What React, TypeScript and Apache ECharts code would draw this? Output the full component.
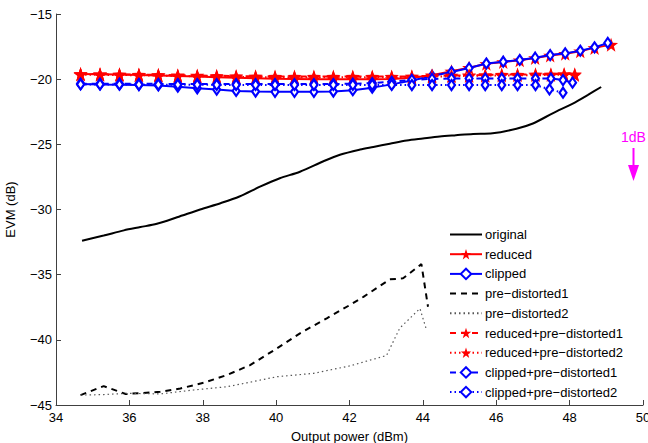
import React, { useEffect, useRef } from "react";
import * as echarts from "echarts";

const xTicks = [34, 36, 38, 40, 42, 44, 46, 48, 50];
const yTicks = [-45, -40, -35, -30, -25, -20, -15];

const xOriginal = [34.71, 35.3, 35.85, 36.3, 36.75, 37.3, 37.93, 38.5, 39.0, 39.56, 40.1, 40.65, 41.29, 41.74, 42.29, 42.65, 43.1, 43.56, 44.0, 44.46, 44.9, 45.37, 45.9, 46.55, 47.0, 47.55, 48.1, 48.5, 48.86];
const yOriginal = [-32.4, -32.0, -31.6, -31.35, -31.1, -30.6, -30.0, -29.5, -29.0, -28.25, -27.6, -27.1, -26.3, -25.8, -25.4, -25.2, -24.95, -24.7, -24.55, -24.4, -24.3, -24.2, -24.15, -23.8, -23.4, -22.6, -21.85, -21.2, -20.6];

const xReduced = [34.67, 35.2, 35.73, 36.26, 36.79, 37.32, 37.85, 38.38, 38.91, 39.44, 39.97, 40.5, 41.03, 41.56, 42.09, 42.62, 43.15, 43.7, 44.25, 44.78, 45.26, 45.73, 46.19, 46.64, 47.06, 47.47, 47.88, 48.29, 48.68, 49.13];
const yReduced = [-19.6, -19.62, -19.65, -19.68, -19.72, -19.76, -19.8, -19.85, -19.9, -19.93, -19.96, -19.98, -20.0, -20.0, -20.0, -20.0, -19.98, -19.9, -19.7, -19.4, -19.12, -18.82, -18.68, -18.55, -18.37, -18.18, -18.05, -17.85, -17.6, -17.35];

const xClipped = [34.67, 35.2, 35.73, 36.26, 36.79, 37.32, 37.85, 38.38, 38.91, 39.44, 39.97, 40.5, 41.03, 41.56, 42.09, 42.62, 43.15, 43.7, 44.25, 44.78, 45.26, 45.73, 46.19, 46.64, 47.06, 47.47, 47.88, 48.29, 48.68, 49.04];
const yClipped = [-20.37, -20.4, -20.42, -20.45, -20.48, -20.58, -20.7, -20.8, -20.9, -20.95, -20.97, -20.97, -20.97, -20.95, -20.85, -20.65, -20.4, -20.1, -19.75, -19.45, -19.15, -18.8, -18.66, -18.53, -18.35, -18.15, -18.02, -17.82, -17.56, -17.22];

const xPd1 = [34.67, 35.3, 35.9, 36.84, 37.39, 38.02, 38.66, 39.29, 40.02, 40.65, 41.38, 42.01, 42.38, 43.1, 43.46, 43.96, 44.14];
const yPd1 = [-44.24, -43.55, -44.16, -43.99, -43.73, -43.3, -42.7, -41.94, -40.66, -39.5, -38.35, -37.33, -36.7, -35.36, -35.28, -34.19, -37.46];

const xPd2 = [34.67, 35.3, 35.94, 36.84, 37.75, 38.66, 39.2, 40.02, 41.02, 42.01, 43.01, 43.37, 43.92, 44.1];
const yPd2 = [-44.24, -44.2, -44.1, -44.15, -43.85, -43.6, -43.3, -42.83, -42.57, -42.0, -41.2, -39.1, -37.6, -39.25];

const xRedPd = [34.67, 35.2, 35.73, 36.26, 36.79, 37.32, 37.85, 38.38, 38.91, 39.44, 39.97, 40.5, 41.03, 41.56, 42.09, 42.62, 43.15, 43.7, 44.25, 44.78, 45.26, 45.7, 46.15, 46.58, 47.07, 47.49, 47.85, 48.14];
const yRedPd1 = [-19.6, -19.62, -19.63, -19.65, -19.67, -19.7, -19.72, -19.74, -19.76, -19.78, -19.8, -19.8, -19.8, -19.8, -19.8, -19.8, -19.8, -19.78, -19.75, -19.72, -19.7, -19.68, -19.65, -19.65, -19.63, -19.63, -19.6, -19.62];
const yRedPd2 = [-19.65, -19.67, -19.68, -19.7, -19.72, -19.75, -19.78, -19.8, -19.82, -19.84, -19.85, -19.86, -19.86, -19.86, -19.85, -19.85, -19.84, -19.82, -19.8, -19.78, -19.75, -19.73, -19.72, -19.7, -19.7, -19.68, -19.66, -19.68];

const xClipPd1 = [34.67, 35.2, 35.73, 36.26, 36.79, 37.32, 37.85, 38.38, 38.91, 39.44, 39.97, 40.5, 41.03, 41.56, 42.09, 42.62, 43.15, 43.7, 44.25, 44.78, 45.26, 45.7, 46.15, 46.58, 47.07, 47.49, 47.82, 48.08];
const yClipPd1 = [-20.35, -20.35, -20.35, -20.36, -20.36, -20.37, -20.37, -20.38, -20.38, -20.38, -20.38, -20.38, -20.38, -20.37, -20.35, -20.3, -20.2, -20.05, -19.98, -19.95, -19.95, -19.95, -19.95, -19.95, -19.95, -19.95, -20.07, -20.27];

const xClipPd2 = [34.67, 35.2, 35.73, 36.26, 36.79, 37.32, 37.85, 38.38, 38.91, 39.44, 39.97, 40.5, 41.03, 41.56, 42.09, 42.62, 43.15, 43.7, 44.25, 44.78, 45.26, 45.7, 46.15, 46.58, 47.07, 47.45, 47.82];
const yClipPd2 = [-20.4, -20.4, -20.41, -20.42, -20.42, -20.43, -20.43, -20.44, -20.44, -20.44, -20.44, -20.44, -20.44, -20.44, -20.44, -20.44, -20.44, -20.45, -20.45, -20.45, -20.45, -20.45, -20.45, -20.45, -20.45, -20.78, -21.04];

const names = [
  "original",
  "reduced",
  "clipped",
  "pre\u2212distorted1",
  "pre\u2212distorted2",
  "reduced+pre\u2212distorted1",
  "reduced+pre\u2212distorted2",
  "clipped+pre\u2212distorted1",
  "clipped+pre\u2212distorted2",
];

const STAR =
  "path://M0,-10 L2.35,-3.24 L9.51,-3.09 L3.8,1.24 L5.88,8.09 L0,4 L-5.88,8.09 L-3.8,1.24 L-9.51,-3.09 L-2.35,-3.24Z";

const FONT = "Liberation Sans, Arial, Helvetica, sans-serif";

function zip(xs: number[], ys: number[]) {
  return xs.map((x, i) => [x, ys[i]]);
}

export default function App() {
  const ref = useRef<HTMLDivElement>(null);
  useEffect(() => {
    if (!ref.current) return;
    const chart = echarts.init(ref.current, undefined, { renderer: "svg" });
    const red = "#ff0000";
    const blue = "#0000ff";
    const starSeries = (name: string, xs: number[], ys: number[], type: any, z: number) => ({
      name,
      type: "line",
      data: zip(xs, ys),
      symbol: STAR,
      symbolSize: 14,
      showSymbol: true,
      z,
      lineStyle: { color: red, width: 2, type },
      itemStyle: { color: red, borderColor: red, borderWidth: 0 },
    });
    const diaSeries = (name: string, xs: number[], ys: number[], type: any, z: number) => ({
      name,
      type: "line",
      data: zip(xs, ys),
      symbol: "diamond",
      symbolSize: [7, 10],
      showSymbol: true,
      z,
      lineStyle: { color: blue, width: 2, type },
      itemStyle: { color: "#ffffff", borderColor: blue, borderWidth: 2.2 },
    });
    const plainSeries = (name: string, xs: number[], ys: number[], color: string, width: number, type: any, smooth: any) => ({
      name,
      type: "line",
      data: zip(xs, ys),
      symbol: "circle",
      symbolSize: 0,
      showSymbol: false,
      smooth,
      lineStyle: { color, width, type },
      itemStyle: { color: "rgba(0,0,0,0)", borderWidth: 0 },
    });
    chart.setOption({
      animation: false,
      textStyle: { fontFamily: FONT },
      grid: { left: 56, right: 5, top: 14, bottom: 38, containLabel: false, outerBoundsMode: "none" },
      xAxis: {
        type: "value",
        min: 34,
        max: 50,
        interval: 2,
        name: "Output power (dBm)",
        nameLocation: "middle",
        nameGap: 25,
        nameTextStyle: { fontSize: 13, color: "#000", fontFamily: FONT },
        axisLine: { lineStyle: { color: "#404040", width: 1 } },
        axisTick: { inside: true, length: 5, lineStyle: { color: "#404040" } },
        axisLabel: { fontSize: 13, color: "#000", margin: 6, fontFamily: FONT, formatter: (v: number) => (xTicks.includes(v) ? String(v) : "") },
        splitLine: { show: false },
      },
      yAxis: {
        type: "value",
        min: -45,
        max: -15,
        interval: 5,
        name: "EVM (dB)",
        nameLocation: "middle",
        nameGap: 39,
        nameTextStyle: { fontSize: 13, color: "#000", fontFamily: FONT },
        axisLine: { show: true, lineStyle: { color: "#404040", width: 1 } },
        axisTick: { show: true, inside: true, length: 5, lineStyle: { color: "#404040" } },
        axisLabel: {
          fontSize: 13,
          color: "#000",
          margin: 4,
          fontFamily: FONT,
          formatter: (v: number) => (yTicks.includes(v) ? String(v).replace("-", "\u2212") : ""),
        },
        splitLine: { show: false },
      },
      legend: {
        orient: "vertical",
        left: 449,
        top: 228,
        itemWidth: 32,
        itemHeight: 13,
        itemGap: 6.7,
        padding: 0,
        textStyle: { fontSize: 13, color: "#000", fontFamily: FONT, padding: [0, 0, 0, -2] },
        data: names,
      },
      series: [
        plainSeries(names[0], xOriginal, yOriginal, "#000", 2, "solid", 0.3),
        starSeries(names[1], xReduced, yReduced, "solid", 3),
        diaSeries(names[2], xClipped, yClipped, "solid", 4),
        plainSeries(names[3], xPd1, yPd1, "#000", 2, [6, 5], false),
        plainSeries(names[4], xPd2, yPd2, "#555", 1.2, [1.5, 3], false),
        starSeries(names[5], xRedPd, yRedPd1, [6, 5], 5),
        starSeries(names[6], xRedPd, yRedPd2, [1.5, 3], 6),
        diaSeries(names[7], xClipPd1, yClipPd1, [6, 5], 7),
        diaSeries(names[8], xClipPd2, yClipPd2, [1.5, 3], 8),
      ],
      graphic: [
        {
          type: "text",
          left: 621,
          top: 130,
          style: { text: "1dB", fill: "#ff00ff", fontSize: 14, fontFamily: FONT },
        },
        {
          type: "line",
          shape: { x1: 633.5, y1: 148, x2: 633.5, y2: 168 },
          style: { stroke: "#ff00ff", lineWidth: 2 },
        },
        {
          type: "polygon",
          shape: { points: [[628, 165], [639, 165], [633.5, 181]] },
          style: { fill: "#ff00ff" },
        },
      ],
    });
    return () => chart.dispose();
  }, []);
  return <div ref={ref} style={{ width: 648, height: 443, position: "absolute", left: 0, top: 0 }} />;
}
